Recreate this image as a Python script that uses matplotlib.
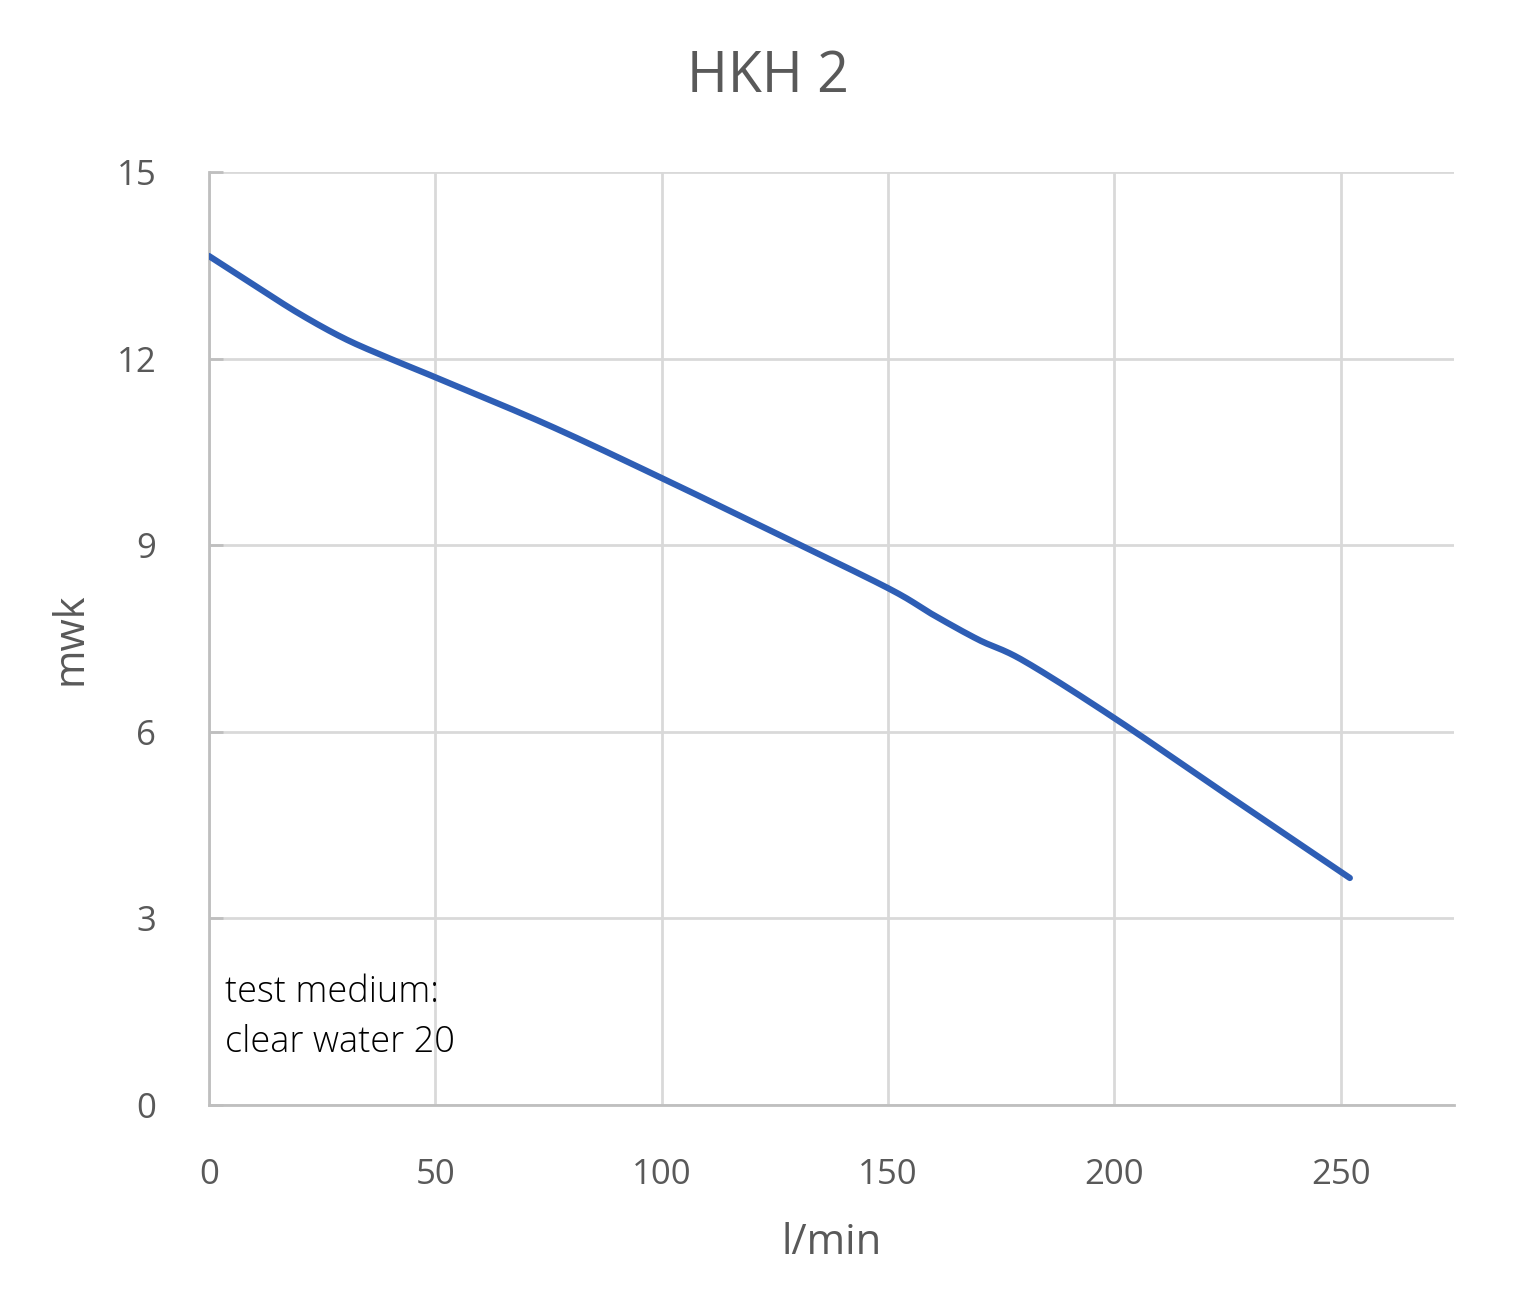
import matplotlib
matplotlib.use("Agg")
import matplotlib.pyplot as plt
import numpy as np

flow = [0, 10, 20, 30, 40, 50, 75, 100, 125, 150, 160, 170, 180, 200, 225, 252]
head = [13.65, 13.18, 12.72, 12.32, 12.0, 11.7, 10.93, 10.08, 9.2, 8.31, 7.88, 7.48, 7.14, 6.22, 4.98, 3.65]
xticks = [0, 50, 100, 150, 200, 250]
yticks = [0, 3, 6, 9, 12, 15]

def catmull(x, y, n=20):
    x = np.asarray(x, float); y = np.asarray(y, float)
    px = np.concatenate([[2*x[0]-x[1]], x, [2*x[-1]-x[-2]]])
    py = np.concatenate([[2*y[0]-y[1]], y, [2*y[-1]-y[-2]]])
    ox, oy = [], []
    t = np.linspace(0, 1, n, endpoint=False)
    for i in range(1, len(px)-2):
        for p, o in ((px, ox), (py, oy)):
            p0, p1, p2, p3 = p[i-1], p[i], p[i+1], p[i+2]
            o.extend(0.5*((2*p1) + (-p0+p2)*t + (2*p0-5*p1+4*p2-p3)*t**2 + (-p0+3*p1-3*p2+p3)*t**3))
    ox.append(x[-1]); oy.append(y[-1])
    return ox, oy

plt.rcParams['font.family'] = ['Open Sans', 'DejaVu Sans']
fig = plt.figure(figsize=(15.36, 13.13), dpi=100)
ax = fig.add_axes([0.136, 0.1584, 0.8106, 0.7106])
sx, sy = catmull(flow, head)
ax.plot(sx, sy, color='#2E5EB5', lw=4.5, solid_capstyle='round', zorder=3)
ax.set_xlim(0, 275); ax.set_ylim(0, 15)
ax.set_xticks(xticks); ax.set_yticks(yticks)
ax.grid(True, color='#D9D9D9', lw=2)
for s in ['top', 'right']:
    ax.spines[s].set_visible(False)
for s in ['left', 'bottom']:
    ax.spines[s].set_color('#BFBFBF'); ax.spines[s].set_linewidth(2)
ax.tick_params(axis='x', colors='#595959', labelsize=25, length=0, pad=38)
ax.tick_params(axis='y', colors='#595959', labelsize=25, length=10, width=2, color='#BFBFBF', direction='in', pad=38)
ax.set_xlabel('l/min', fontsize=30, color='#595959', labelpad=22)
ax.set_ylabel('mwk', fontsize=30, color='#595959', labelpad=18)
fig.text(0.5, 1 - 78/1313, 'HKH 2', fontsize=40, color='#595959', ha='center', va='center')
ax.text(3.5, 2.1, 'test medium:\nclear water 20', fontsize=26, color='black', va='top', linespacing=1.45, fontweight='light')
fig.savefig('out.png', dpi=100)
